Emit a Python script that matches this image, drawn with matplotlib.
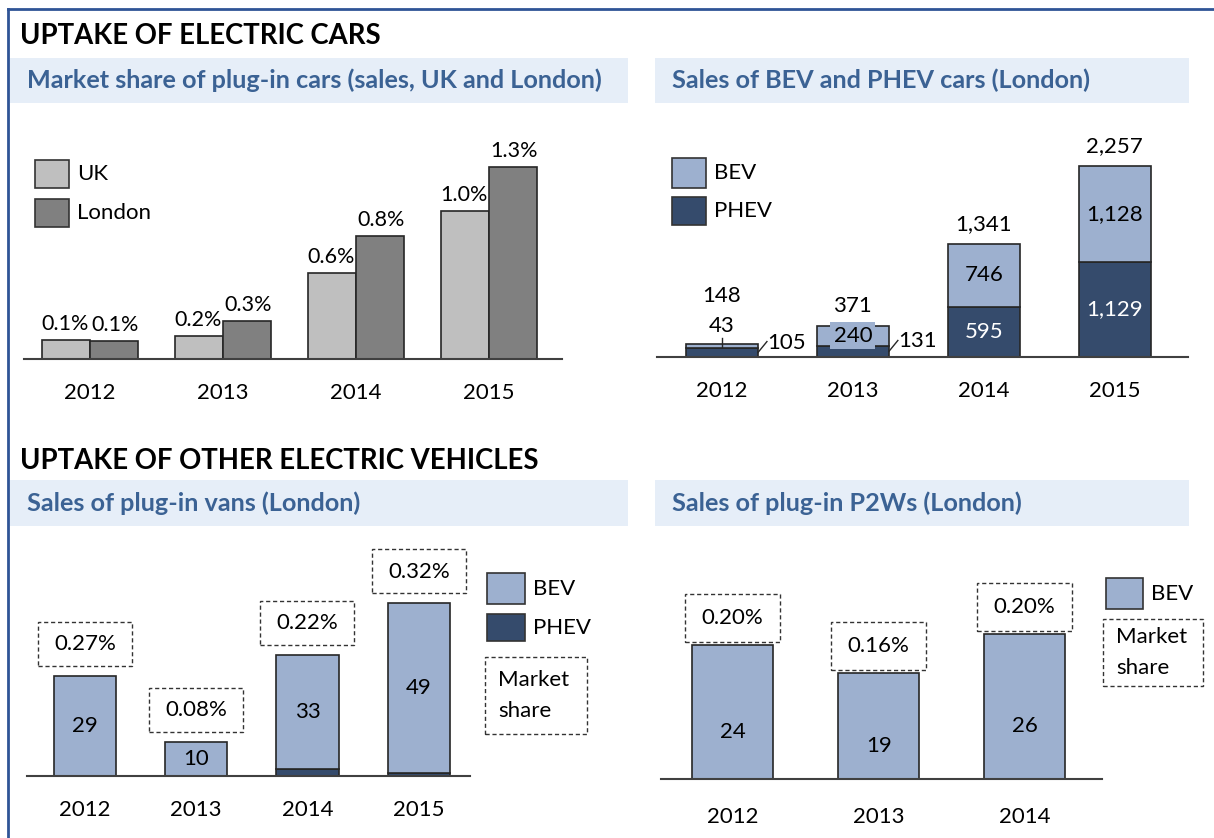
import matplotlib
matplotlib.use('Agg')
import matplotlib.pyplot as plt
from matplotlib.patches import Rectangle
from matplotlib.lines import Line2D
import matplotlib.transforms as mtrans

plt.rcParams['font.family'] = ['Lato', 'DejaVu Sans']

# ---------------- data ----------------
years_cars = ['2012', '2013', '2014', '2015']
share_uk = [0.13, 0.155, 0.58, 1.0]
share_london = [0.12, 0.26, 0.83, 1.3]
share_uk_labels = ['0.1%', '0.2%', '0.6%', '1.0%']
share_london_labels = ['0.1%', '0.3%', '0.8%', '1.3%']

car_bev = [43, 240, 746, 1128]
car_phev = [105, 131, 595, 1129]

years_vans = ['2012', '2013', '2014', '2015']
van_bev = [29, 10, 33, 49]
van_phev = [0, 0, 2, 1]
van_share = ['0.27%', '0.08%', '0.22%', '0.32%']

years_p2w = ['2012', '2013', '2014']
p2w_bev = [24, 19, 26]
p2w_share = ['0.20%', '0.16%', '0.20%']

# ---------------- style ----------------
W, H, DPI = 1214, 838, 100
C_UK, C_LON = '#BFBFBF', '#808080'
C_BEV, C_PHEV = '#9DB0CF', '#354B6C'
BAND, HEAD = '#E6EEF8', '#3B6294'
EDGE = '#262626'
BORDER = '#2F5496'
FS = 16

fig = plt.figure(figsize=(W / DPI, H / DPI), dpi=DPI)
fig.patch.set_facecolor('white')


def fx(x):
    return x / W


def fy(y):
    return 1 - y / H


def fig_rect(x0, y0, x1, y1, **kw):
    r = Rectangle((fx(x0), fy(y1)), (x1 - x0) / W, (y1 - y0) / H,
                  transform=fig.transFigure, **kw)
    fig.patches.append(r)
    return r


def pxo(ax, x, y):
    """transform: pixel offsets relative to data point (x, y)"""
    return mtrans.Affine2D() + mtrans.ScaledTranslation(x, y, ax.transData)


def add_ax(left, top, right, bottom, xlim, ylim, labels, pad):
    ax = fig.add_axes([fx(left), fy(bottom), (right - left) / W, (bottom - top) / H])
    ax.set_facecolor('none')
    for s in ['top', 'right', 'left']:
        ax.spines[s].set_visible(False)
    ax.spines['bottom'].set_color('#404040')
    ax.spines['bottom'].set_linewidth(1.5)
    ax.spines['bottom'].set_zorder(5)
    ax.set_yticks([])
    ax.set_xlim(*xlim)
    ax.set_ylim(*ylim)
    ax.set_xticks(range(len(labels)))
    ax.set_xticklabels(labels)
    ax.tick_params(axis='x', length=0, pad=pad, labelsize=FS)
    return ax


def band(x0, y0, x1, y1, text):
    fig_rect(x0, y0, x1, y1, facecolor=BAND, edgecolor='none', zorder=0)
    fig.text(fx(x0 + 17), fy((y0 + y1) / 2), text, ha='left', va='center',
             fontsize=18.2, fontweight='bold', color=HEAD)


def legend_item(x0, y0, x1, y1, color, label):
    fig_rect(x0, y0, x1, y1, facecolor=color, edgecolor='#333333', linewidth=1.2)
    fig.text(fx(x1 + 8), fy((y0 + y1) / 2), label, ha='left', va='center', fontsize=FS)


def share_legend(x0, y0, x1, y1):
    fig_rect(x0, y0, x1, y1, facecolor='none', edgecolor='#333333', linewidth=1,
             linestyle=(0, (3, 2)))
    fig.text(fx(x0 + 13), fy((y0 + y1) / 2), 'Market\nshare', ha='left', va='center',
             fontsize=FS, linespacing=1.65)


def share_box(ax, x, y, text, off, w, h):
    tr = pxo(ax, x, y)
    r = Rectangle((-w / 2, off - h / 2), w, h, transform=tr, facecolor='white',
                  edgecolor='#333333', linewidth=1, linestyle=(0, (3, 2)), clip_on=False)
    ax.add_artist(r)
    ax.text(0, off, text, transform=tr, ha='center', va='center', fontsize=FS, clip_on=False)


# ---------------- frame ----------------
fig.add_artist(Line2D([fx(8), fx(1214)], [fy(9), fy(9)], transform=fig.transFigure,
                      color=BORDER, linewidth=2))
fig.add_artist(Line2D([fx(8), fx(8)], [fy(9), fy(838)], transform=fig.transFigure,
                      color=BORDER, linewidth=2))

fig.text(fx(20), fy(36), 'UPTAKE OF ELECTRIC CARS', ha='left', va='center',
         fontsize=19.8, fontweight='bold', color='black')
fig.text(fx(20), fy(461), 'UPTAKE OF OTHER ELECTRIC VEHICLES', ha='left', va='center',
         fontsize=19.8, fontweight='bold', color='black')

band(10, 58, 628, 103, 'Market share of plug-in cars (sales, UK and London)')
band(655, 58, 1189, 103, 'Sales of BEV and PHEV cars (London)')
band(10, 480, 628, 526, 'Sales of plug-in vans (London)')
band(655, 480, 1189, 526, 'Sales of plug-in P2Ws (London)')

# ---------------- chart 1: market share ----------------
ax1 = add_ax(24, 130, 562, 359, (-0.496, 3.55), (0, 229 / 148), years_cars, 17.5)
bw = 0.36
x = list(range(len(years_cars)))
ax1.bar([i - bw / 2 for i in x], share_uk, bw, color=C_UK, edgecolor=EDGE, linewidth=1.2)
ax1.bar([i + bw / 2 for i in x], share_london, bw, color=C_LON, edgecolor=EDGE, linewidth=1.2)
for i in x:
    ax1.text(-1, 6, share_uk_labels[i], transform=pxo(ax1, i - bw / 2, share_uk[i]),
             ha='center', va='bottom', fontsize=15.5)
    ax1.text(1, 6, share_london_labels[i], transform=pxo(ax1, i + bw / 2, share_london[i]),
             ha='center', va='bottom', fontsize=15.5)
legend_item(35, 160, 69, 188, C_UK, 'UK')
legend_item(35, 199, 69, 227, C_LON, 'London')

# ---------------- chart 2: BEV / PHEV cars ----------------
ax2 = add_ax(657, 130, 1188, 357, (-0.496, 3.56), (0, 227 / 0.0845), years_cars, 17.5)
bw2 = 0.55
ax2.bar(x, car_phev, bw2, color=C_PHEV, edgecolor=EDGE, linewidth=1.2)
ax2.bar(x, car_bev, bw2, bottom=car_phev, color=C_BEV, edgecolor=EDGE, linewidth=1.2)
totals = [b + p for b, p in zip(car_bev, car_phev)]
for i in x:
    tot = totals[i]
    if i == 0:
        ax2.text(0, 48, f'{tot:,}', transform=pxo(ax2, i, tot), ha='center', va='center', fontsize=FS)
        ax2.text(0, 18, f'{car_bev[i]:,}', transform=pxo(ax2, i, tot), ha='center', va='center', fontsize=FS)
        ax2.add_artist(Line2D([0, 0], [-3, 6], transform=pxo(ax2, i, tot), color=EDGE, linewidth=1))
    else:
        ax2.text(0, 20, f'{tot:,}', transform=pxo(ax2, i, tot), ha='center', va='center', fontsize=FS)
    if i < 2:
        tr = pxo(ax2, i + bw2 / 2, car_phev[i] / 2)
        ax2.add_artist(Line2D([0, 9], [0, 11], transform=tr, color=EDGE, linewidth=1))
        ax2.text(9, 10, f'{car_phev[i]:,}', transform=tr, ha='left', va='center', fontsize=FS)
    if i == 1:
        ax2.text(i, car_phev[i] + car_bev[i] / 2, f'{car_bev[i]:,}', ha='center', va='center',
                 fontsize=FS, bbox=dict(boxstyle='square,pad=0.15', facecolor=C_BEV, edgecolor='none'))
    if i >= 2:
        ax2.text(i, car_phev[i] + car_bev[i] / 2, f'{car_bev[i]:,}', ha='center', va='center', fontsize=FS)
        ax2.text(i, car_phev[i] / 2, f'{car_phev[i]:,}', ha='center', va='center', fontsize=FS, color='white')
legend_item(672, 158, 706, 188, C_BEV, 'BEV')
legend_item(672, 197, 706, 225, C_PHEV, 'PHEV')

# ---------------- chart 3: vans ----------------
ax3 = add_ax(27, 540, 470, 776, (-0.52, 3.46), (0, 236 / 3.45), years_vans, 17)
xv = list(range(len(years_vans)))
bw3 = 0.56
ax3.bar(xv, van_phev, bw3, color=C_PHEV, edgecolor=EDGE, linewidth=1.2)
ax3.bar(xv, van_bev, bw3, bottom=van_phev, color=C_BEV, edgecolor=EDGE, linewidth=1.2)
for i in xv:
    ax3.text(i, van_phev[i] + van_bev[i] / 2, str(van_bev[i]), ha='center', va='center', fontsize=FS)
    share_box(ax3, i, van_phev[i] + van_bev[i], van_share[i], 32, 94, 44)
legend_item(487, 573, 525, 604, C_BEV, 'BEV')
legend_item(487, 614, 525, 641, C_PHEV, 'PHEV')
share_legend(485, 657, 587, 734)

# ---------------- chart 4: P2Ws ----------------
ax4 = add_ax(661, 540, 1102, 779, (-0.49, 2.53), (0, 239 / 5.58), years_p2w, 20)
xp = list(range(len(years_p2w)))
ax4.bar(xp, p2w_bev, 0.56, color=C_BEV, edgecolor=EDGE, linewidth=1.2)
for i in xp:
    ax4.text(0, -20, str(p2w_bev[i]), transform=pxo(ax4, i, p2w_bev[i] / 2),
             ha='center', va='center', fontsize=FS)
    share_box(ax4, i, p2w_bev[i], p2w_share[i], 27, 95, 48)
legend_item(1106, 578, 1143, 609, C_BEV, 'BEV')
share_legend(1103, 619, 1203, 686)

fig.savefig('out.png', dpi=DPI, facecolor='white')
